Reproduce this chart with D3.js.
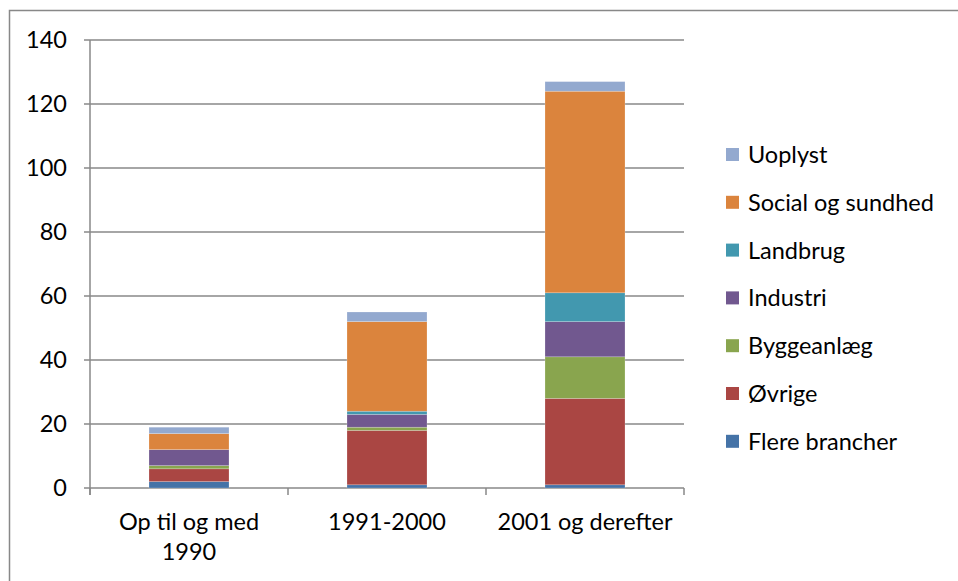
<!DOCTYPE html>
<html><head><meta charset="utf-8">
<script src="https://cdn.jsdelivr.net/npm/d3@7"></script>
<style>body{margin:0;background:#fff}text{font-family:Lato,"Open Sans",sans-serif;fill:#000}</style>
</head><body><svg id="c" width="958" height="581"></svg>
<script>
const categories = [["Op til og med","1990"],["1991-2000"],["2001 og derefter"]];
const seriesNames = ["Flere brancher","Øvrige","Byggeanlæg","Industri","Landbrug","Social og sundhed","Uoplyst"];
const colors = ["#4573a7","#aa4643","#89a54e","#71588f","#4298af","#db843d","#93a9cf"];
const flere = [2,1,1];
const ovrige = [4,17,27];
const bygge = [1,1,13];
const industri = [5,4,11];
const landbrug = [0,1,9];
const social = [5,28,63];
const uoplyst = [2,3,3];
const yTicks = [0,20,40,60,80,100,120,140];

const values = [flere,ovrige,bygge,industri,landbrug,social,uoplyst];
const FS = 23.5;
const svg = d3.select("#c");
svg.append("rect").attr("x",9.5).attr("y",10.5).attr("width",960).attr("height",600)
  .attr("fill","none").attr("stroke","#888").attr("stroke-width",1.5);

const x0=90,x1=684,yTop=40,yBot=488;
const x = d3.scaleBand().domain([0,1,2]).range([x0,x1]).paddingInner(0).paddingOuter(0);
const y = d3.scaleLinear().domain([0,140]).range([yBot,yTop]);

// grid
svg.append("g").selectAll("line").data(yTicks).join("line")
  .attr("x1",x0-6).attr("x2",x1).attr("y1",d=>y(d)).attr("y2",d=>y(d))
  .attr("stroke","#888").attr("stroke-width",1.5);
// y axis line
svg.append("line").attr("x1",x0).attr("x2",x0).attr("y1",yTop).attr("y2",yBot+7).attr("stroke","#888").attr("stroke-width",1.5);
// y labels
svg.append("g").selectAll("text").data(yTicks).join("text")
  .attr("x",67).attr("y",d=>y(d)).attr("dy","0.36em").attr("text-anchor","end")
  .attr("font-size",FS).text(d=>d);
// x ticks
svg.append("g").selectAll("line").data([0,1,2,3]).join("line")
  .attr("x1",(d)=>x0+d*x.bandwidth()).attr("x2",(d)=>x0+d*x.bandwidth())
  .attr("y1",yBot).attr("y2",yBot+7).attr("stroke","#888").attr("stroke-width",1.5);

// stacked data
const rows = categories.map((c,i)=>{const o={i}; seriesNames.forEach((s,j)=>o[s]=values[j][i]); return o;});
const stack = d3.stack().keys(seriesNames)(rows);
const bw = 80;
svg.append("g").selectAll("g").data(stack).join("g").attr("fill",(d,j)=>colors[j])
  .selectAll("rect").data(d=>d).join("rect")
  .attr("x",(d,i)=>x(i)+x.bandwidth()/2-bw/2).attr("width",bw)
  .attr("y",d=>y(d[1])).attr("height",d=>y(d[0])-y(d[1]))
  .attr("stroke","rgba(255,255,255,0.35)").attr("stroke-width",0.6);

// category labels
categories.forEach((lines,i)=>{
  lines.forEach((t,k)=>{
    svg.append("text").attr("x",x(i)+x.bandwidth()/2).attr("y",530+k*30)
      .attr("text-anchor","middle").attr("font-size",FS).text(t);
  });
});

// legend
const leg = seriesNames.slice().reverse();
const legColors = colors.slice().reverse();
leg.forEach((s,k)=>{
  const cy = 154.5 + k*47.8;
  svg.append("rect").attr("x",726).attr("y",cy-6.5).attr("width",13).attr("height",13).attr("fill",legColors[k]);
  svg.append("text").attr("x",748).attr("y",cy).attr("dy","0.36em").attr("font-size",FS).text(s);
});
</script></body></html>
